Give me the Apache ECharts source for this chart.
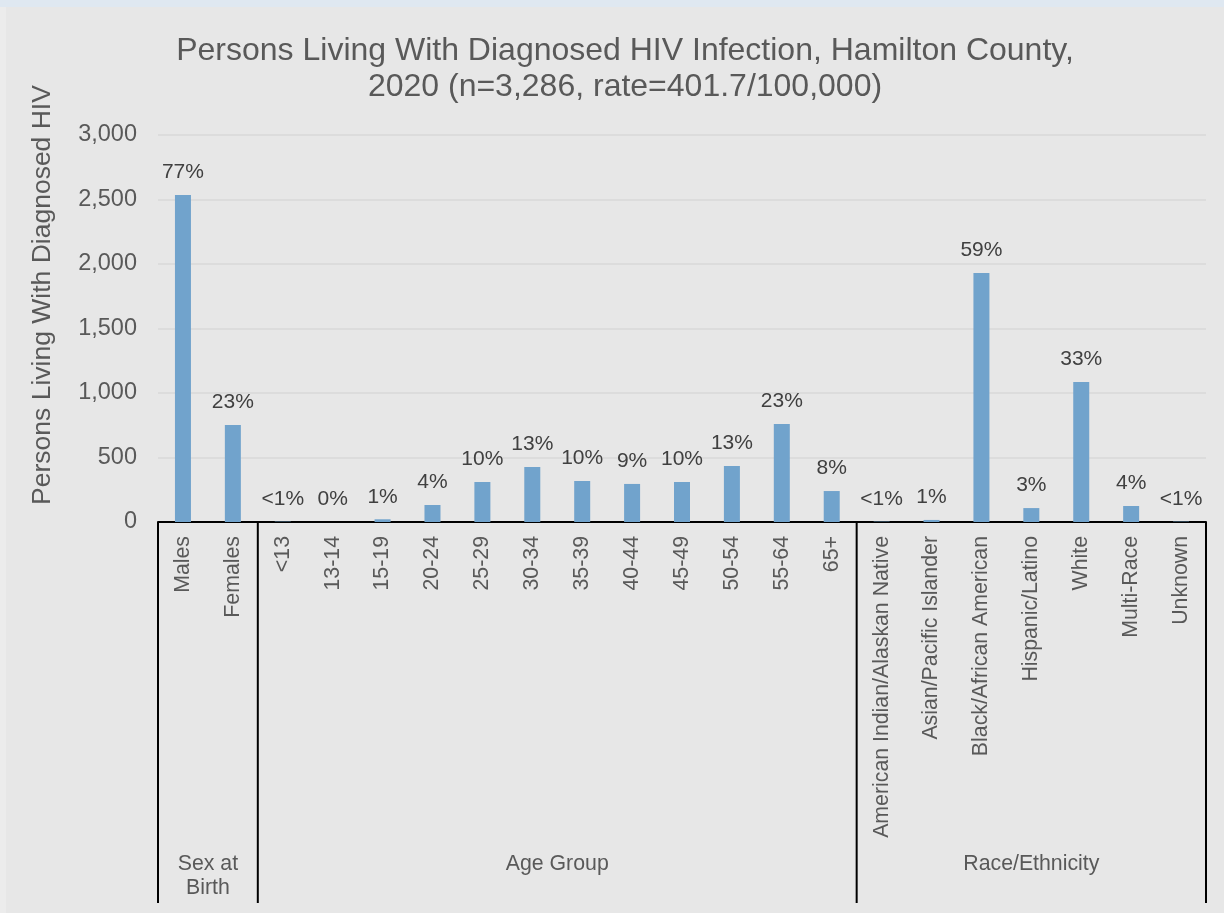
<!DOCTYPE html>
<html>
<head>
<meta charset="utf-8">
<script src="https://cdn.jsdelivr.net/npm/echarts@6/dist/echarts.min.js"></script>
<style>
html,body{margin:0;padding:0;background:#e7e7e7;}
#topband{position:absolute;left:0;top:0;width:1224px;height:7px;background:#dfe8f1;z-index:2;}
#leftband{position:absolute;left:0;top:7px;width:6px;height:906px;background:#ececec;z-index:2;}
#chart{position:absolute;left:0;top:0;width:1224px;height:913px;}
</style>
</head>
<body>
<div id="chart"></div>
<div id="topband"></div>
<div id="leftband"></div>
<script>
const categories = ['Males','Females','<13','13-14','15-19','20-24','25-29','30-34','35-39','40-44','45-49','50-54','55-64','65+','American Indian/Alaskan Native','Asian/Pacific Islander','Black/African American','Hispanic/Latino','White','Multi-Race','Unknown'];
const values = [2535,751,3,0,21,132,310,426,318,295,310,434,760,240,3,16,1930,108,1085,124,3];
const pctLabels = ['77%','23%','<1%','0%','1%','4%','10%','13%','10%','9%','10%','13%','23%','8%','<1%','1%','59%','3%','33%','4%','<1%'];
const groupNames = ['Sex at\nBirth','Age Group','Race/Ethnicity'];
const groupSizes = [2,12,7];
const yTicks = {min:0,max:3000,interval:500};

const FONT = '"Liberation Sans", Arial, sans-serif';
const chart = echarts.init(document.getElementById('chart'));
const option = {
  backgroundColor: 'transparent',
  animation: false,
  title: {
    text: 'Persons Living With Diagnosed HIV Infection, Hamilton County,\n2020 (n=3,286, rate=401.7/100,000)',
    left: 620, textAlign: 'center', top: 28,
    textStyle: {fontFamily: FONT, fontSize: 32, fontWeight: 'normal', color: '#595959', lineHeight: 36}
  },
  grid: {left: 158, right: 18, top: 135, bottom: 391},
  xAxis: {
    type: 'category', data: categories,
    axisLine: {lineStyle: {color: '#000', width: 2}},
    axisTick: {show: false},
    axisLabel: {rotate: 90, interval: 0, margin: 14, fontFamily: FONT, fontSize: 21.3, color: '#595959'}
  },
  yAxis: {
    type: 'value', min: yTicks.min, max: yTicks.max, interval: yTicks.interval,
    axisLine: {show: false}, axisTick: {show: false},
    splitLine: {lineStyle: {color: '#d9d9d9', width: 1.5}},
    axisLabel: {margin: 21, fontFamily: FONT, fontSize: 23.5, color: '#595959',
      formatter: v => v.toLocaleString('en-US')}
  },
  series: [{
    type: 'bar', data: values, barWidth: 16,
    itemStyle: {color: '#71a3cc'},
    label: {show: true, position: 'top', distance: 12, fontFamily: FONT, fontSize: 21, color: '#404040',
      formatter: p => pctLabels[p.dataIndex]}
  }]
};
chart.setOption(option);

// Group separators and labels below the category axis
const y0 = chart.convertToPixel({yAxisIndex: 0}, 0);
const cx = i => chart.convertToPixel({xAxisIndex: 0}, i);
const step = cx(1) - cx(0);
const gridBottomY = 903;
const graphics = [];
let start = 0;
const bounds = [cx(0) - step / 2];
groupSizes.forEach(n => { start += n; bounds.push(cx(start - 1) + step / 2); });
bounds.forEach(x => graphics.push({type: 'line', shape: {x1: x, y1: y0, x2: x, y2: gridBottomY}, style: {stroke: '#000', lineWidth: 2}}));
groupNames.forEach((name, i) => {
  const mid = (bounds[i] + bounds[i + 1]) / 2;
  graphics.push({type: 'text', x: mid, y: 852, style: {text: name, fill: '#595959', font: '21.3px ' + FONT, textAlign: 'center', textVerticalAlign: 'top', lineHeight: 24}});
});
// y axis name
graphics.push({type: 'text', x: 43, y: 295, rotation: Math.PI / 2,
  style: {text: 'Persons Living With Diagnosed HIV', fill: '#595959', font: '26.5px ' + FONT, textAlign: 'center', textVerticalAlign: 'middle'}});
chart.setOption({graphic: graphics});
</script>
</body>
</html>
